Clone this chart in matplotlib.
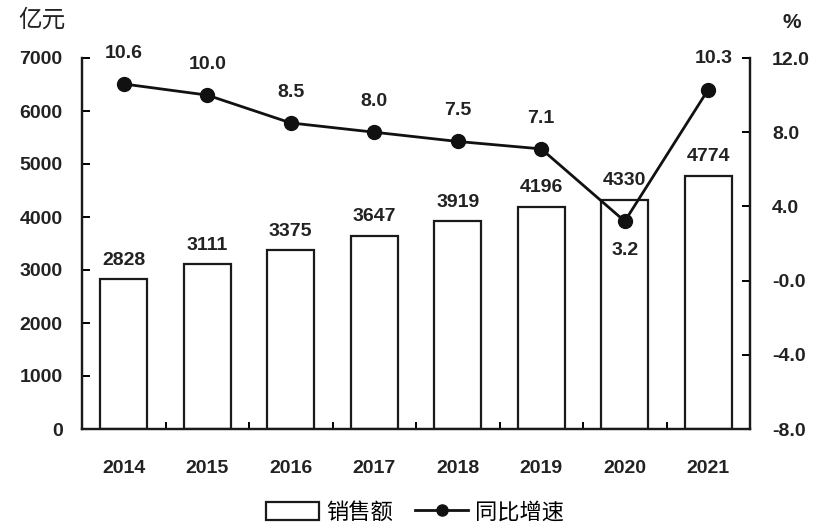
import matplotlib
matplotlib.use("Agg")
import matplotlib.pyplot as plt
import numpy as np
from matplotlib.patches import Patch
from matplotlib.lines import Line2D

plt.rcParams['font.family'] = ['Liberation Sans', 'Noto Sans CJK SC', 'DejaVu Sans']

years = ['2014', '2015', '2016', '2017', '2018', '2019', '2020', '2021']
sales = [2828, 3111, 3375, 3647, 3919, 4196, 4330, 4774]
growth = [10.6, 10.0, 8.5, 8.0, 7.5, 7.1, 3.2, 10.3]
left_ticks = [0, 1000, 2000, 3000, 4000, 5000, 6000, 7000]
right_ticks = [-8.0, -4.0, 0.0, 4.0, 8.0, 12.0]
right_labels = ['-8.0', '-4.0', '-0.0', '4.0', '8.0', '12.0']

fs = 14
fig = plt.figure(figsize=(8.15, 5.26), dpi=100)
ax = fig.add_axes([82/815, 1-429/526, (750-82)/815, (429-58)/526])
ax2 = ax.twinx()

x = np.arange(len(years))
ax.bar(x, sales, width=0.56, color='white', edgecolor='#1a1a1a', linewidth=1.6, zorder=2)
ax.set_xlim(-0.5, len(years) - 0.5)
ax.set_ylim(0, 7000)
ax.set_yticks(left_ticks)
ax.set_xticks(x)
ax.set_xticklabels(years)
ax.set_xticks(np.arange(len(years) + 1) - 0.5, minor=True)

for xi, v in zip(x, sales):
    ax.text(xi, v + 200, str(v), ha='center', va='bottom', fontsize=fs, fontweight='bold', color='#222222')

ax2.plot(x, growth, color='#111111', linewidth=2, marker='o', markersize=10, zorder=3)
ax2.set_ylim(-8, 12)
ax2.set_yticks(right_ticks)
ax2.set_yticklabels(right_labels)
for xi, v in zip(x, growth):
    if years[xi] == '2020':
        ax2.text(xi, v - 1.1, f'{v:.1f}', ha='center', va='top', fontsize=fs, fontweight='bold', color='#222222')
    else:
        ax2.text(xi + (0.07 if years[xi] == '2021' else 0), v + 1.2, f'{v:.1f}', ha='center', va='bottom',
                 fontsize=fs, fontweight='bold', color='#222222')

for a in (ax, ax2):
    a.spines['top'].set_visible(False)
    for s in ('left', 'right', 'bottom'):
        a.spines[s].set_linewidth(1.6)
        a.spines[s].set_color('#1a1a1a')

ax.tick_params(axis='y', direction='in', length=6, width=1.4, labelsize=fs, pad=14)
ax.tick_params(axis='x', which='major', length=0, labelsize=fs, pad=22)
ax.tick_params(axis='x', which='minor', direction='in', length=5, width=1.4)
ax2.tick_params(axis='y', direction='in', length=6, width=1.4, labelsize=fs, pad=16)
for lab in ax.get_yticklabels() + ax.get_xticklabels() + ax2.get_yticklabels():
    lab.set_fontweight('bold')
    lab.set_color('#222222')

fig.text(18/815, 1-20/526, '亿元', ha='left', va='center', fontsize=17, color='#222222',
         family=['Noto Sans CJK SC', 'DejaVu Sans'])
fig.text(792/815, 1-22/526, '%', ha='center', va='center', fontsize=15, fontweight='bold', color='#222222')

handles = [Patch(facecolor='white', edgecolor='#1a1a1a', linewidth=1.6, label='销售额'),
           Line2D([0], [0], color='#111111', linewidth=2, marker='o', markersize=8, label='同比增速')]
fig.legend(handles=handles, loc='center', bbox_to_anchor=(415/815, 1-512/526), ncol=2, frameon=False,
           prop={'family': ['Noto Sans CJK SC', 'DejaVu Sans'], 'size': 16}, handlelength=2.4, handleheight=0.9,
           columnspacing=1.0, handletextpad=0.3, borderaxespad=0, borderpad=0)

fig.savefig('out.png', dpi=100)
